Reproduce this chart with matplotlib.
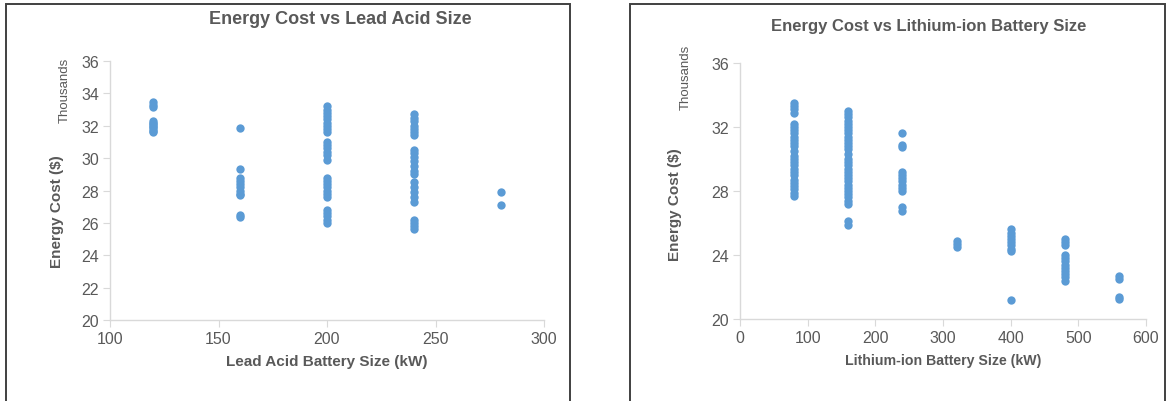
import matplotlib
matplotlib.use("Agg")
import matplotlib.pyplot as plt
from matplotlib.patches import Rectangle

plt.rcParams['font.family'] = ['Liberation Sans', 'DejaVu Sans']

# Energy cost values in thousands of dollars, grouped by battery size (kW)
lead_sizes = [120, 160, 200, 240, 280]
lead_costs = [
    [33.45, 33.3, 33.15, 32.3, 32.2, 32.1, 32.0, 31.9, 31.8, 31.7, 31.6],
    [31.85, 29.3, 28.8, 28.6, 28.4, 28.2, 28.0, 27.8, 27.7, 26.5, 26.35],
    [33.2, 33.0, 32.8, 32.6, 32.4, 32.2, 32.0, 31.8, 31.6, 31.0, 30.8, 30.6,
     30.4, 30.2, 29.9, 28.8, 28.6, 28.4, 28.2, 28.0, 27.8, 27.6, 26.8, 26.6,
     26.4, 26.2, 26.0],
    [32.7, 32.5, 32.3, 32.0, 31.8, 31.6, 31.4, 30.5, 30.3, 30.1, 29.8, 29.5,
     29.2, 29.0, 28.5, 28.2, 27.9, 27.6, 27.3, 26.2, 26.0, 25.8, 25.6],
    [27.9, 27.1],
]

li_sizes = [80, 160, 240, 320, 400, 480, 560]
li_costs = [
    [33.5, 33.3, 33.1, 32.9, 32.2, 32.0, 31.8, 31.6, 31.4, 31.2, 31.0, 30.8,
     30.5, 30.2, 30.0, 29.8, 29.6, 29.4, 29.2, 29.0, 28.7, 28.5, 28.3, 28.1,
     27.9, 27.7],
    [33.0, 32.8, 32.6, 32.4, 32.2, 32.0, 31.8, 31.6, 31.4, 31.2, 31.0, 30.8,
     30.6, 30.3, 30.0, 29.8, 29.6, 29.4, 29.2, 29.0, 28.8, 28.6, 28.4, 28.2,
     28.0, 27.8, 27.6, 27.4, 27.2, 26.1, 25.9],
    [31.6, 30.9, 30.75, 29.2, 29.0, 28.8, 28.6, 28.4, 28.2, 28.0, 27.0, 26.75],
    [24.9, 24.7, 24.5],
    [25.6, 25.4, 25.2, 25.0, 24.8, 24.6, 24.4, 24.25, 21.2],
    [25.0, 24.8, 24.6, 24.0, 23.8, 23.6, 23.4, 23.2, 23.0, 22.8, 22.6, 22.4],
    [22.7, 22.5, 21.4, 21.25],
]

lead_xticks = [100, 150, 200, 250, 300]
lead_yticks = [20, 22, 24, 26, 28, 30, 32, 34, 36]
li_xticks = [0, 100, 200, 300, 400, 500, 600]
li_yticks = [20, 24, 28, 32, 36]

DOT = '#5B9BD5'
TXT = '#595959'
AXC = '#D9D9D9'


def style_axis(ax, xticks, yticks, xlabel, label_size):
    for s in ['top', 'right']:
        ax.spines[s].set_visible(False)
    for s in ['left', 'bottom']:
        ax.spines[s].set_color(AXC)
        ax.spines[s].set_linewidth(1.0)
    ax.set_xlim(xticks[0], xticks[-1])
    ax.set_ylim(yticks[0], yticks[-1])
    ax.set_xticks(xticks)
    ax.set_yticks(yticks)
    ax.tick_params(direction='out', length=5, color=AXC, labelcolor=TXT,
                   labelsize=11.5, pad=3)
    ax.set_xlabel(xlabel, fontsize=label_size, fontweight='bold', color=TXT,
                  labelpad=6)


def scatter_groups(ax, sizes, costs):
    for x, ys in zip(sizes, costs):
        ax.scatter([x] * len(ys), ys, s=36, color=DOT, linewidths=0, zorder=3)


fig = plt.figure(figsize=(11.68, 4.02), dpi=100)

# panel frames
fig.patches.append(Rectangle((6 / 1168, -0.05), 564 / 1168, 1.05 - 5 / 402,
                             transform=fig.transFigure, fill=False,
                             edgecolor='#404040', linewidth=1.4))
fig.patches.append(Rectangle((630 / 1168, -0.05), 535 / 1168, 1.05 - 5 / 402,
                             transform=fig.transFigure, fill=False,
                             edgecolor='#404040', linewidth=1.4))

ax1 = fig.add_axes([110 / 1168, 1 - 321 / 402, 434 / 1168, 259 / 402])
scatter_groups(ax1, lead_sizes, lead_costs)
style_axis(ax1, lead_xticks, lead_yticks, 'Lead Acid Battery Size (kW)', 11)
fig.text(340 / 1168, 1 - 20 / 402, 'Energy Cost vs Lead Acid Size', ha='center',
         va='center', fontsize=13, fontweight='bold', color=TXT)
fig.text(57 / 1168, 1 - 212 / 402, 'Energy Cost ($)', rotation=90, ha='center',
         va='center', fontsize=11, fontweight='bold', color=TXT)
fig.text(65 / 1168, 1 - 58 / 402, 'Thousands', rotation=90, ha='center',
         va='top', fontsize=9.5, color=TXT)

ax2 = fig.add_axes([740 / 1168, 1 - 320 / 402, 406 / 1168, 256 / 402])
scatter_groups(ax2, li_sizes, li_costs)
style_axis(ax2, li_xticks, li_yticks, 'Lithium-ion Battery Size (kW)', 10.2)
fig.text(929 / 1168, 1 - 27 / 402, 'Energy Cost vs Lithium-ion Battery Size',
         ha='center', va='center', fontsize=12, fontweight='bold', color=TXT)
fig.text(675 / 1168, 1 - 205 / 402, 'Energy Cost ($)', rotation=90, ha='center',
         va='center', fontsize=11, fontweight='bold', color=TXT)
fig.text(686 / 1168, 1 - 45 / 402, 'Thousands', rotation=90, ha='center',
         va='top', fontsize=9.5, color=TXT)

fig.savefig('out.png', dpi=100)
